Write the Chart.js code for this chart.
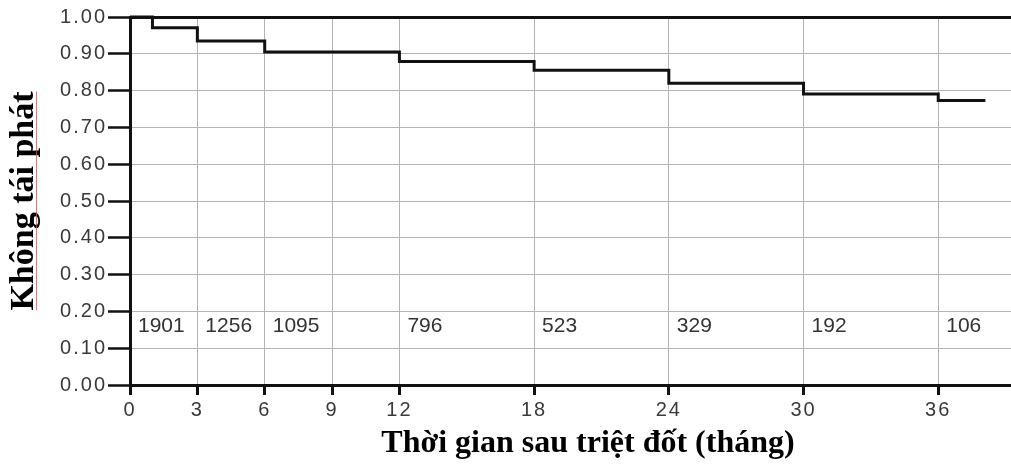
<!DOCTYPE html>
<html>
<head>
<meta charset="utf-8">
<script src="https://cdn.jsdelivr.net/npm/chart.js@4.4.1/dist/chart.umd.min.js"></script>
<style>
  html, body { margin: 0; padding: 0; background: #fff; overflow: hidden; }
  #wrap { width: 1011px; height: 468px; overflow: hidden; }
  #km { display: block; }
</style>
</head>
<body>
<div id="wrap"><canvas id="km" width="1046" height="468"></canvas></div>
<script>
// Kaplan–Meier recurrence-free survival after ablation
const kmMonths   = [0, 1, 3, 6, 12, 18, 24, 30, 36, 38.1];
const kmSurvival = [1.0, 0.971, 0.935, 0.905, 0.879, 0.855, 0.820, 0.791, 0.773, 0.773];

// x-axis tick positions (months)
const xTickValues = [0, 3, 6, 9, 12, 18, 24, 30, 36];

// patients at risk, printed just right of each time mark
const riskMonths = [0, 3, 6, 12, 18, 24, 30, 36];
const riskCounts = [1901, 1256, 1095, 796, 523, 329, 192, 106];
const riskRowLevel = 0.16;

const yTitle = 'Không tái phát';
const xTitle = 'Thời gian sau triệt đốt (tháng)';

const SANS = '"Liberation Sans", Arial, Helvetica, sans-serif';
const SERIF = '"Liberation Serif", "Times New Roman", serif';
const GRID = '#b4b4b4';
const INK = '#111';

const points = kmMonths.map((m, i) => ({ x: m, y: kmSurvival[i] }));

// numbers-at-risk row inside the plot
const riskRow = {
  id: 'riskRow',
  afterDatasetsDraw(chart) {
    const { ctx, scales: { x, y } } = chart;
    ctx.save();
    ctx.font = '21px ' + SANS;
    ctx.fillStyle = '#333';
    ctx.textAlign = 'left';
    ctx.textBaseline = 'middle';
    const py = y.getPixelForValue(riskRowLevel);
    riskCounts.forEach((n, i) => {
      ctx.fillText(String(n), x.getPixelForValue(riskMonths[i]) + 8, py);
    });
    ctx.restore();
  }
};

// tick labels are drawn after the datasets (ticks.z = 1) with wider tracking
const tickTracking = {
  id: 'tickTracking',
  afterDatasetsDraw(chart) { chart.ctx.letterSpacing = '2px'; },
  afterDraw(chart) { chart.ctx.letterSpacing = '0px'; }
};

// thin red proofing underline beside the rotated y title
const titleMark = {
  id: 'titleMark',
  afterDraw(chart) {
    const { ctx, chartArea } = chart;
    ctx.save();
    ctx.font = 'bold 34px ' + SERIF;
    const w = ctx.measureText(yTitle).width;
    const cy = (chartArea.top + chartArea.bottom) / 2;
    ctx.strokeStyle = 'rgba(225,70,70,0.75)';
    ctx.lineWidth = 1;
    ctx.beginPath();
    ctx.moveTo(36.5, cy - w / 2);
    ctx.lineTo(36.5, cy + w / 2);
    ctx.stroke();
    ctx.restore();
  }
};

new Chart(document.getElementById('km'), {
  type: 'line',
  data: {
    datasets: [{
      data: points,
      borderColor: INK,
      borderWidth: 3,
      pointRadius: 0,
      stepped: 'before',
      fill: false,
      clip: false
    }]
  },
  options: {
    responsive: false,
    animation: false,
    devicePixelRatio: 1,
    layout: { padding: { top: 17, right: 0, left: 0, bottom: 0 } },
    plugins: { legend: { display: false }, tooltip: { enabled: false } },
    scales: {
      x: {
        type: 'linear',
        min: 0,
        max: 40.8,
        afterBuildTicks: s => { s.ticks = xTickValues.map(v => ({ value: v })); },
        afterFit: s => { s.height = 83; },
        grid: { color: GRID, lineWidth: 1, tickLength: 10, tickColor: INK, tickWidth: 3 },
        border: { color: INK, width: 3 },
        ticks: {
          z: 1, autoSkip: false, maxRotation: 0, padding: 3,
          font: { family: SANS, size: 20 }, color: '#3a3a3a',
          callback: v => String(v)
        },
        title: {
          display: true, text: xTitle, color: '#000',
          font: { family: SERIF, size: 32, weight: 'bold' },
          padding: { top: 0, bottom: 5 }
        }
      },
      y: {
        min: 0,
        max: 1,
        afterFit: s => { s.width = 130; },
        grid: {
          color: c => (c.tick && Math.abs(c.tick.value - 1) < 1e-6) ? INK : GRID,
          lineWidth: c => (c.tick && Math.abs(c.tick.value - 1) < 1e-6) ? 3 : 1,
          tickLength: 22, tickColor: INK, tickWidth: 2.5
        },
        border: { color: INK, width: 3 },
        ticks: {
          z: 1, stepSize: 0.1, padding: 1,
          font: { family: SANS, size: 20 }, color: '#3a3a3a',
          callback: v => Number(v).toFixed(2)
        },
        title: {
          display: true, text: yTitle, color: '#000',
          font: { family: SERIF, size: 34, weight: 'bold' },
          padding: { top: 4, bottom: 0 }
        }
      }
    }
  },
  plugins: [riskRow, tickTracking, titleMark]
});
</script>
</body>
</html>
